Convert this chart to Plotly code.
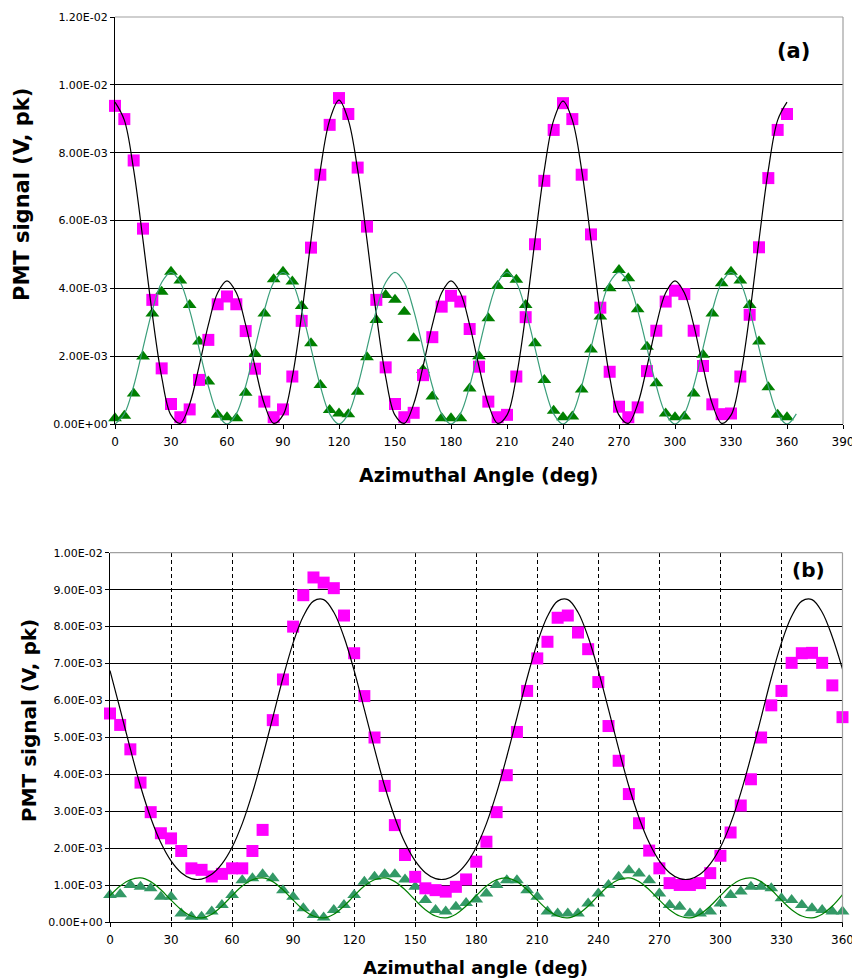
import plotly.graph_objects as go

# ---------------- data (values in units of 1e-3 V) ----------------
SCALE = 1e-3

angles = list(range(0, 361, 5))

# Panel (a)
a_magenta = [9.38, 8.99, 7.77, 5.76, 3.66, 1.64, 0.59, 0.20, 0.43, 1.30, 2.48, 3.53, 3.76,
             3.53, 2.74, 1.63, 0.66, 0.20, 0.43, 1.40, 3.04, 5.20, 7.35, 8.82, 9.61,
             9.14, 7.56, 5.82, 3.66, 1.67, 0.59, 0.20, 0.33, 1.44, 2.56, 3.46, 3.78,
             3.61, 2.80, 1.69, 0.66, 0.20, 0.27, 1.40, 3.15, 5.30, 7.17, 8.67, 9.46,
             8.99, 7.35, 5.59, 3.43, 1.54, 0.51, 0.20, 0.49, 1.56, 2.75, 3.61, 3.93,
             3.83, 2.75, 1.71, 0.58, 0.29, 0.31, 1.40, 3.22, 5.21, 7.25, 8.67, 9.14]

a_green = [0.17, 0.24, 0.90, 1.99, 3.26, 3.90, 4.49, 4.23, 3.51, 2.43, 1.25, 0.27, 0.20,
           0.17, 0.92, 2.08, 3.26, 4.27, 4.49, 4.20, 3.48, 2.38, 1.15, 0.41, 0.31,
           0.29, 0.95, 1.97, 3.07, 3.80, 3.66, 3.31, 2.53, 1.60, 0.81, 0.17, 0.17,
           0.17, 1.05, 2.00, 3.12, 4.07, 4.42, 4.25, 3.51, 2.38, 1.30, 0.39, 0.20,
           0.22, 1.02, 2.20, 3.17, 4.00, 4.54, 4.30, 3.38, 2.28, 1.20, 0.31, 0.20,
           0.22, 0.90, 2.04, 3.26, 4.15, 4.49, 4.23, 3.51, 2.43, 1.08, 0.27, 0.20]

a_fit_black = [9.49, 8.96, 7.49, 5.42, 3.23, 1.39, 0.26, 0.02, 0.59, 1.69, 2.92, 3.87, 4.22,
               3.87, 2.92, 1.69, 0.59, 0.02, 0.26, 1.39, 3.23, 5.42, 7.49, 8.96, 9.55,
               8.96, 7.49, 5.42, 3.23, 1.39, 0.26, 0.02, 0.59, 1.69, 2.92, 3.87, 4.22,
               3.87, 2.92, 1.69, 0.59, 0.02, 0.26, 1.39, 3.23, 5.42, 7.49, 8.96, 9.52,
               8.96, 7.49, 5.42, 3.23, 1.39, 0.26, 0.02, 0.59, 1.69, 2.92, 3.87, 4.22,
               3.87, 2.92, 1.69, 0.59, 0.02, 0.26, 1.39, 3.23, 5.42, 7.49, 8.96, 9.49]

a_fit_green_angles = list(range(0, 366, 5))
a_fit_green = [0.00, 0.30, 1.12, 2.24, 3.35, 4.17, 4.47, 4.17, 3.35, 2.24, 1.12, 0.30,
               0.00, 0.30, 1.12, 2.24, 3.35, 4.17, 4.47, 4.17, 3.35, 2.24, 1.12, 0.30,
               0.00, 0.30, 1.12, 2.24, 3.35, 4.17, 4.47, 4.17, 3.35, 2.24, 1.12, 0.30,
               0.00, 0.30, 1.12, 2.24, 3.35, 4.17, 4.47, 4.17, 3.35, 2.24, 1.12, 0.30,
               0.00, 0.30, 1.12, 2.24, 3.35, 4.17, 4.47, 4.17, 3.35, 2.24, 1.12, 0.30,
               0.00, 0.30, 1.12, 2.24, 3.35, 4.17, 4.47, 4.17, 3.35, 2.24, 1.12, 0.30,
               0.00, 0.30]

# Panel (b)
b_magenta = [5.65, 5.34, 4.68, 3.78, 2.98, 2.41, 2.27, 1.93, 1.46, 1.42, 1.24, 1.31, 1.46,
             1.46, 1.93, 2.50, 5.47, 6.57, 8.00, 8.85, 9.33, 9.19, 9.04, 8.30, 7.28,
             6.12, 5.00, 3.69, 2.63, 1.82, 1.23, 0.92, 0.87, 0.83, 0.96, 1.16, 1.64,
             2.18, 2.98, 3.98, 5.15, 6.26, 7.14, 7.59, 8.24, 8.30, 7.84, 7.39, 6.50,
             5.31, 4.37, 3.47, 2.68, 1.94, 1.46, 1.06, 1.01, 1.01, 1.06, 1.33, 1.80,
             2.43, 3.16, 3.87, 5.00, 5.87, 6.26, 7.02, 7.28, 7.29, 7.02, 6.41, 5.55]

b_green = [0.74, 0.76, 1.01, 0.96, 0.92, 0.69, 0.69, 0.24, 0.15, 0.15, 0.29, 0.47, 0.74,
           1.14, 1.19, 1.30, 1.19, 0.87, 0.69, 0.38, 0.20, 0.13, 0.33, 0.47, 0.74,
           1.10, 1.23, 1.30, 1.30, 1.16, 0.96, 0.60, 0.33, 0.29, 0.42, 0.52, 0.62,
           0.78, 1.01, 1.14, 1.14, 0.87, 0.69, 0.29, 0.24, 0.24, 0.24, 0.51, 0.78,
           1.01, 1.23, 1.41, 1.32, 1.14, 0.78, 0.47, 0.42, 0.24, 0.24, 0.29, 0.51,
           0.74, 0.83, 0.96, 0.96, 0.92, 0.65, 0.60, 0.47, 0.38, 0.33, 0.29, 0.29]

b_fit_black = [6.81, 5.76, 4.69, 3.68, 2.83, 2.15, 1.66, 1.34, 1.18, 1.17, 1.30, 1.58,
               2.03, 2.67, 3.50, 4.48, 5.54, 6.61, 7.56, 8.28, 8.69, 8.73, 8.39, 7.72,
               6.81, 5.76, 4.69, 3.68, 2.83, 2.15, 1.66, 1.34, 1.18, 1.17, 1.30, 1.58,
               2.03, 2.67, 3.50, 4.48, 5.54, 6.61, 7.56, 8.28, 8.69, 8.73, 8.39, 7.72,
               6.81, 5.76, 4.69, 3.68, 2.83, 2.15, 1.66, 1.34, 1.18, 1.17, 1.30, 1.58,
               2.03, 2.67, 3.50, 4.48, 5.54, 6.61, 7.56, 8.28, 8.69, 8.73, 8.39, 7.72,
               6.85]

b_fit_green = [0.72, 0.98, 1.15, 1.20, 1.10, 0.88, 0.60, 0.34, 0.17, 0.12, 0.22, 0.44,
               0.72, 0.98, 1.15, 1.20, 1.10, 0.88, 0.60, 0.34, 0.17, 0.12, 0.22, 0.44,
               0.72, 0.98, 1.15, 1.20, 1.10, 0.88, 0.60, 0.34, 0.17, 0.12, 0.22, 0.44,
               0.72, 0.98, 1.15, 1.20, 1.10, 0.88, 0.60, 0.34, 0.17, 0.12, 0.22, 0.44,
               0.72, 0.98, 1.15, 1.20, 1.10, 0.88, 0.60, 0.34, 0.17, 0.12, 0.22, 0.44,
               0.72, 0.98, 1.15, 1.20, 1.10, 0.88, 0.60, 0.34, 0.17, 0.12, 0.22, 0.44,
               0.75]

# tick labels
a_xticks = list(range(0, 391, 30))
a_yticks = [0, 0.002, 0.004, 0.006, 0.008, 0.010, 0.012]
a_ytext = ["0.00E+00", "2.00E-03", "4.00E-03", "6.00E-03", "8.00E-03", "1.00E-02", "1.20E-02"]
b_xticks = list(range(0, 361, 30))
b_yticks = [0, 0.001, 0.002, 0.003, 0.004, 0.005, 0.006, 0.007, 0.008, 0.009, 0.010]
b_ytext = ["0.00E+00", "1.00E-03", "2.00E-03", "3.00E-03", "4.00E-03", "5.00E-03",
           "6.00E-03", "7.00E-03", "8.00E-03", "9.00E-03", "1.00E-02"]


def sc(v):
    return [x * SCALE for x in v]


W, H = 852, 980
MAGENTA = "#FF00FF"
FONT = "DejaVu Sans"

fig = go.Figure()

# ---- panel (a)
fig.add_trace(go.Scatter(x=angles, y=sc(a_green), mode="markers", xaxis="x", yaxis="y",
                         marker=dict(symbol="triangle-up", size=12, color="#008000"),
                         cliponaxis=False, showlegend=False))
fig.add_trace(go.Scatter(x=angles, y=sc(a_magenta), mode="markers", xaxis="x", yaxis="y",
                         marker=dict(symbol="square", size=12, color=MAGENTA),
                         cliponaxis=False, showlegend=False))
fig.add_trace(go.Scatter(x=angles, y=sc(a_fit_black), mode="lines", xaxis="x", yaxis="y",
                         line=dict(color="black", width=1.2, shape="spline"),
                         showlegend=False))
fig.add_trace(go.Scatter(x=a_fit_green_angles, y=sc(a_fit_green), mode="lines", xaxis="x", yaxis="y",
                         line=dict(color="#3a9e7a", width=1.2, shape="spline"),
                         showlegend=False))

# ---- panel (b)
fig.add_trace(go.Scatter(x=angles, y=sc(b_green), mode="markers", xaxis="x2", yaxis="y2",
                         marker=dict(symbol="triangle-up", size=12, color="#339966"),
                         cliponaxis=False, showlegend=False))
fig.add_trace(go.Scatter(x=angles, y=sc(b_magenta), mode="markers", xaxis="x2", yaxis="y2",
                         marker=dict(symbol="square", size=12, color=MAGENTA),
                         cliponaxis=False, showlegend=False))
fig.add_trace(go.Scatter(x=angles, y=sc(b_fit_black), mode="lines", xaxis="x2", yaxis="y2",
                         line=dict(color="black", width=1.2, shape="spline"),
                         showlegend=False))
fig.add_trace(go.Scatter(x=angles, y=sc(b_fit_green), mode="lines", xaxis="x2", yaxis="y2",
                         line=dict(color="#008000", width=1.2, shape="spline"),
                         showlegend=False))

tickfont_y = dict(family=FONT, size=11, color="black")
tickfont_x = dict(family=FONT, size=12, color="black")

axis_common = dict(showline=True, linecolor="black", linewidth=1, ticks="outside",
                   ticklen=4, tickcolor="black", zeroline=False, automargin=False,
                   ticklabeloverflow="allow")

fig.update_layout(
    width=W, height=H, autosize=False,
    margin=dict(l=0, r=0, t=0, b=0, pad=0, autoexpand=False),
    paper_bgcolor="white", plot_bgcolor="white",
    hovermode=False,
    xaxis=dict(domain=[115 / W, 843 / W], range=[0, 390], tickvals=a_xticks,
               showgrid=False, tickfont=tickfont_x, anchor="y", ticklabelstandoff=3,
               **axis_common),
    yaxis=dict(domain=[1 - 424 / H, 1 - 17 / H], range=[0, 0.012], tickvals=a_yticks,
               ticktext=a_ytext, showgrid=True, gridcolor="black", gridwidth=1,
               tickfont=tickfont_y, anchor="x", **axis_common),
    xaxis2=dict(domain=[110 / W, 842.5 / W], range=[0, 360], tickvals=b_xticks,
                showgrid=True, gridcolor="black", gridwidth=1, griddash="4px,3px",
                tickfont=tickfont_x, anchor="y2", ticklabelstandoff=2, **axis_common),
    yaxis2=dict(domain=[1 - 922.3 / H, 1 - 552.7 / H], range=[0, 0.010], tickvals=b_yticks,
                ticktext=b_ytext, showgrid=True, gridcolor="black", gridwidth=1,
                tickfont=tickfont_y, anchor="x2", **axis_common),
)

# gray top/right frame
for xr, yr in (("x domain", "y domain"), ("x2 domain", "y2 domain")):
    fig.add_shape(type="line", xref=xr, yref=yr, x0=0, x1=1, y0=1, y1=1,
                  line=dict(color="#a0a0a0", width=1.2), layer="above")
    fig.add_shape(type="line", xref=xr, yref=yr, x0=1, x1=1, y0=0, y1=1,
                  line=dict(color="#a0a0a0", width=1.2), layer="above")

anns = [
    dict(text="<b>PMT signal (V, pk)</b>", x=22 / W, y=1 - 195 / H, textangle=-90,
         font=dict(family=FONT, size=21, color="black")),
    dict(text="<b>Azimuthal Angle (deg)</b>", x=478 / W, y=1 - 475 / H,
         font=dict(family=FONT, size=19, color="black")),
    dict(text="<b>(a)</b>", x=793 / W, y=1 - 51 / H, font=dict(family=FONT, size=21, color="black")),
    dict(text="<b>PMT signal (V, pk)</b>", x=29 / W, y=1 - 721 / H, textangle=-90,
         font=dict(family=FONT, size=20, color="black")),
    dict(text="<b>Azimuthal angle (deg)</b>", x=475 / W, y=1 - 967 / H,
         font=dict(family=FONT, size=18, color="black")),
    dict(text="<b>(b)</b>", x=808 / W, y=1 - 570 / H, font=dict(family=FONT, size=20, color="black")),
]
for a in anns:
    fig.add_annotation(xref="paper", yref="paper", showarrow=False,
                       xanchor="center", yanchor="middle", **a)

fig.write_html(
    "out.html",
    config={"displayModeBar": False, "staticPlot": True},
    post_script="document.body.style.margin='0px';document.body.style.overflow='hidden';",
)
